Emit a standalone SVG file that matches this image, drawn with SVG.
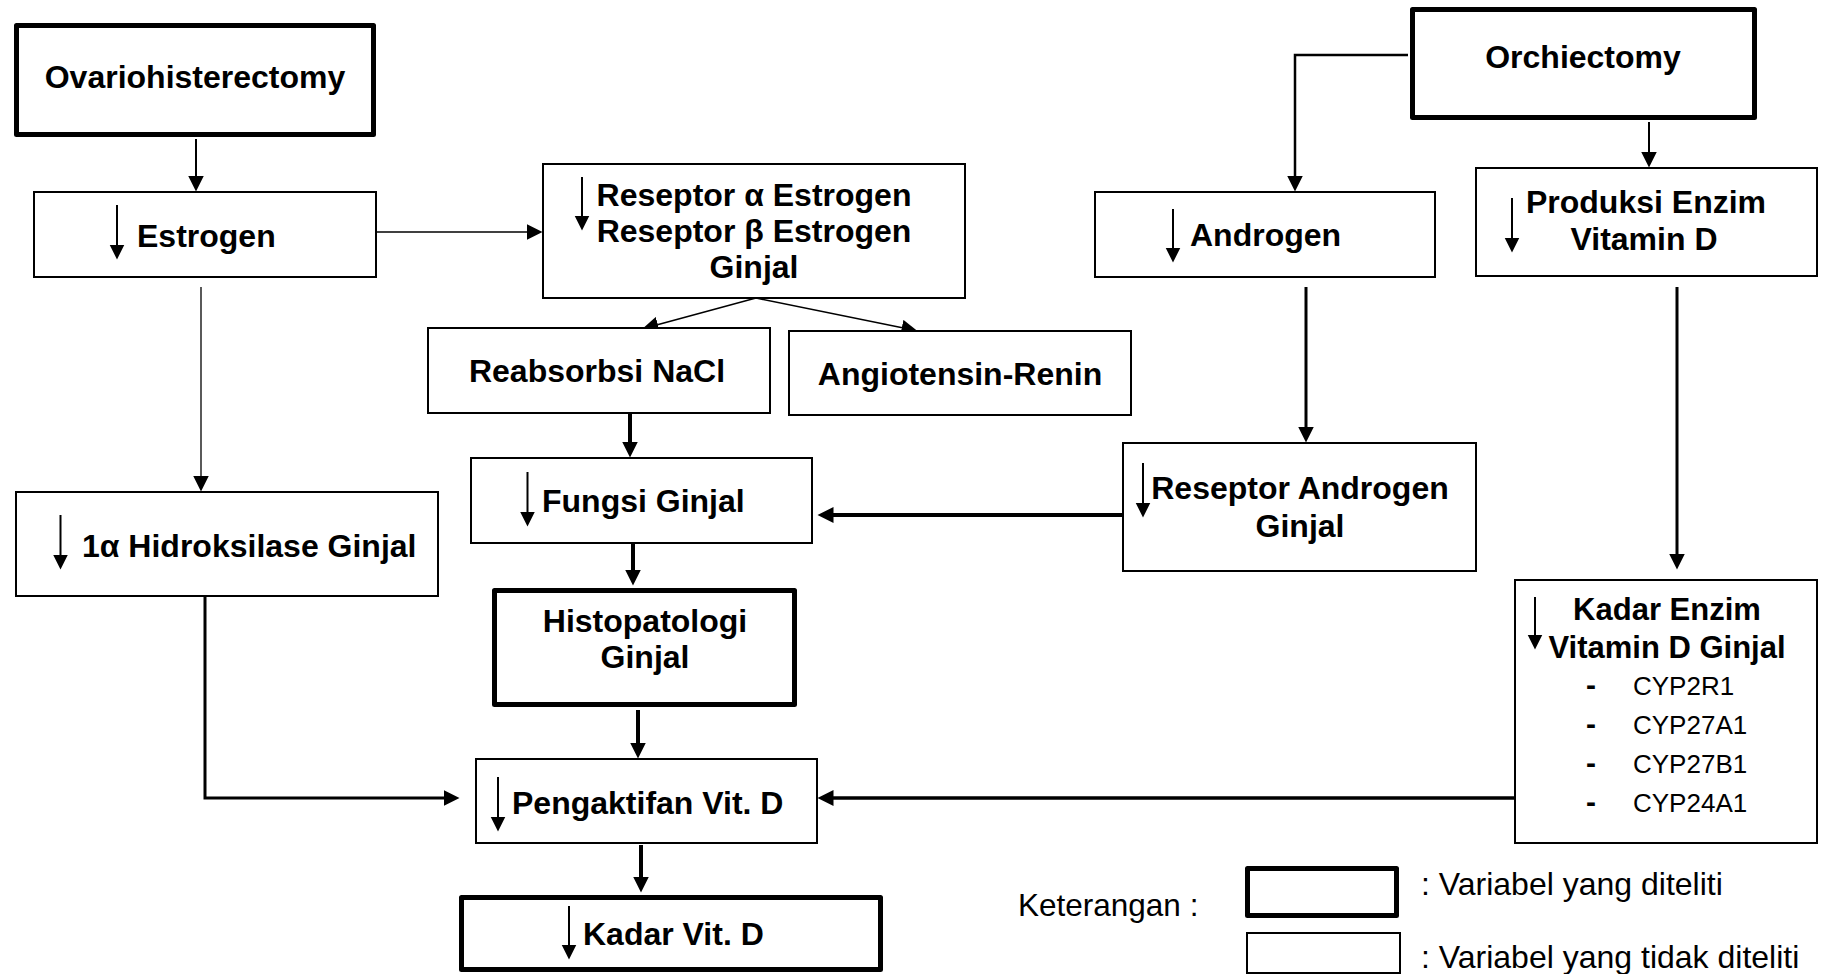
<svg xmlns="http://www.w3.org/2000/svg" width="1823" height="974" viewBox="0 0 1823 974">
<style>
  .box{fill:#fff;stroke:#000;stroke-width:2}
  .tbox{fill:#fff;stroke:#000;stroke-width:5;stroke-linejoin:round}
  .t{font-family:"Liberation Sans",Arial,Helvetica,sans-serif;font-weight:bold;font-size:32px;fill:#000}
  .c{text-anchor:middle}
  .n{font-family:"Liberation Sans",Arial,Helvetica,sans-serif;font-size:32px;fill:#000}
  .cyp{font-family:"Liberation Sans",Arial,Helvetica,sans-serif;font-size:26px;fill:#000}
  .sym{stroke:#000;stroke-width:2;fill:none}
  .con{fill:none;stroke:#000}
</style>
<defs>
  <marker id="ah" markerUnits="userSpaceOnUse" markerWidth="17" markerHeight="16" refX="0.5" refY="8" orient="auto">
    <path d="M0,0 L16,8 L0,16 Z" fill="#000"/>
  </marker>
  <marker id="ahs" markerUnits="userSpaceOnUse" markerWidth="16" markerHeight="16" refX="0.5" refY="7.5" orient="auto">
    <path d="M0,0 L15,7.5 L0,15 Z" fill="#000"/>
  </marker>
</defs>

<g id="connectors">
  <path class="con" stroke-width="2" d="M196,139 V176" marker-end="url(#ah)"/>
  <path class="con" stroke-width="1.3" d="M376,232 H527" marker-end="url(#ah)"/>
  <path class="con" stroke-width="1.3" d="M201,287 V476" marker-end="url(#ah)"/>
  <path class="con" stroke-width="1.5" d="M756,298 L657.4,324.8" marker-end="url(#ah)"/>
  <path class="con" stroke-width="1.5" d="M756,298 L902.3,327.8" marker-end="url(#ah)"/>
  <path class="con" stroke-width="4" d="M630,413 V442" marker-end="url(#ah)"/>
  <path class="con" stroke-width="4" d="M633,543 V570" marker-end="url(#ah)"/>
  <path class="con" stroke-width="4" d="M638,710 V743" marker-end="url(#ah)"/>
  <path class="con" stroke-width="4" d="M641,845 V877" marker-end="url(#ah)"/>
  <path class="con" stroke-width="3" d="M205,596 V798 H444" marker-end="url(#ah)"/>
  <path class="con" stroke-width="3.5" d="M1515,798 H833" marker-end="url(#ah)"/>
  <path class="con" stroke-width="2.5" d="M1408,55 H1295 V176" marker-end="url(#ah)"/>
  <path class="con" stroke-width="2" d="M1649,122 V152" marker-end="url(#ah)"/>
  <path class="con" stroke-width="3" d="M1306,287 V427" marker-end="url(#ah)"/>
  <path class="con" stroke-width="3" d="M1677,287 V554" marker-end="url(#ah)"/>
  <path class="con" stroke-width="4" d="M1123,515 H833" marker-end="url(#ah)"/>
</g>

<g id="ovariohisterectomy">
  <rect class="tbox" x="16.5" y="25.5" width="357" height="109"/>
  <text class="t c" x="195" y="88">Ovariohisterectomy</text>
</g>

<g id="estrogen">
  <rect class="box" x="34" y="192" width="342" height="85"/>
  <path class="sym" d="M117,205 V245" marker-end="url(#ahs)"/>
  <text class="t" x="137" y="247">Estrogen</text>
</g>

<g id="reseptor-estrogen">
  <rect class="box" x="543" y="164" width="422" height="134"/>
  <path class="sym" d="M582,177 V216" marker-end="url(#ahs)"/>
  <text class="t c" x="754" y="206">Reseptor α Estrogen</text>
  <text class="t c" x="754" y="242">Reseptor β Estrogen</text>
  <text class="t c" x="754" y="278">Ginjal</text>
</g>

<g id="reabsorbsi">
  <rect class="box" x="428" y="328" width="342" height="85"/>
  <text class="t c" x="597" y="382">Reabsorbsi NaCl</text>
</g>

<g id="angiotensin">
  <rect class="box" x="789" y="331" width="342" height="84"/>
  <text class="t c" x="960" y="385">Angiotensin-Renin</text>
</g>

<g id="fungsi-ginjal">
  <rect class="box" x="471" y="458" width="341" height="85"/>
  <path class="sym" d="M527.5,472 V512" marker-end="url(#ahs)"/>
  <text class="t" x="542" y="512">Fungsi Ginjal</text>
</g>

<g id="hidroksilase">
  <rect class="box" x="16" y="492" width="422" height="104"/>
  <path class="sym" d="M60.5,515 V555" marker-end="url(#ahs)"/>
  <text class="t" x="82" y="557">1α Hidroksilase Ginjal</text>
</g>

<g id="histopatologi">
  <rect class="tbox" x="494.5" y="590.5" width="300" height="114"/>
  <text class="t c" x="645" y="632">Histopatologi</text>
  <text class="t c" x="645" y="668">Ginjal</text>
</g>

<g id="pengaktifan">
  <rect class="box" x="476" y="759" width="341" height="84"/>
  <path class="sym" d="M498,777 V817" marker-end="url(#ahs)"/>
  <text class="t" x="512" y="814">Pengaktifan Vit. D</text>
</g>

<g id="kadar-vit-d">
  <rect class="tbox" x="461.5" y="897.5" width="419" height="72"/>
  <path class="sym" d="M569,906 V945" marker-end="url(#ahs)"/>
  <text class="t" x="583" y="945">Kadar Vit. D</text>
</g>

<g id="orchiectomy">
  <rect class="tbox" x="1412.5" y="9.5" width="342" height="108"/>
  <text class="t c" x="1583" y="68">Orchiectomy</text>
</g>

<g id="androgen">
  <rect class="box" x="1095" y="192" width="340" height="85"/>
  <path class="sym" d="M1173,209 V248" marker-end="url(#ahs)"/>
  <text class="t" x="1190" y="246">Androgen</text>
</g>

<g id="produksi-enzim">
  <rect class="box" x="1476" y="168" width="341" height="108"/>
  <path class="sym" d="M1512,198 V238" marker-end="url(#ahs)"/>
  <text class="t c" x="1646" y="213">Produksi Enzim</text>
  <text class="t c" x="1644" y="250">Vitamin D</text>
</g>

<g id="reseptor-androgen">
  <rect class="box" x="1123" y="443" width="353" height="128"/>
  <path class="sym" d="M1143,463 V503" marker-end="url(#ahs)"/>
  <text class="t c" x="1300" y="499">Reseptor Androgen</text>
  <text class="t c" x="1300" y="537">Ginjal</text>
</g>

<g id="kadar-enzim">
  <rect class="box" x="1515" y="580" width="302" height="263"/>
  <path class="sym" d="M1535,597 V635" marker-end="url(#ahs)"/>
  <text class="t c" x="1667" y="620" style="font-size:31px">Kadar Enzim</text>
  <text class="t c" x="1667" y="658" style="font-size:31px">Vitamin D Ginjal</text>
  <text class="t" x="1586" y="695" style="font-size:30px">-</text>
  <text class="cyp" x="1633" y="695">CYP2R1</text>
  <text class="t" x="1586" y="734" style="font-size:30px">-</text>
  <text class="cyp" x="1633" y="734">CYP27A1</text>
  <text class="t" x="1586" y="773" style="font-size:30px">-</text>
  <text class="cyp" x="1633" y="773">CYP27B1</text>
  <text class="t" x="1586" y="812" style="font-size:30px">-</text>
  <text class="cyp" x="1633" y="812">CYP24A1</text>
</g>

<g id="legend">
  <text class="n" x="1018" y="916" style="font-size:31.5px">Keterangan :</text>
  <rect class="tbox" x="1247.5" y="868.5" width="149" height="47"/>
  <text class="n" x="1421" y="895">: Variabel yang diteliti</text>
  <rect class="box" x="1247" y="933" width="153" height="40"/>
  <text class="n" x="1421" y="968">: Variabel yang tidak diteliti</text>
</g>
</svg>
